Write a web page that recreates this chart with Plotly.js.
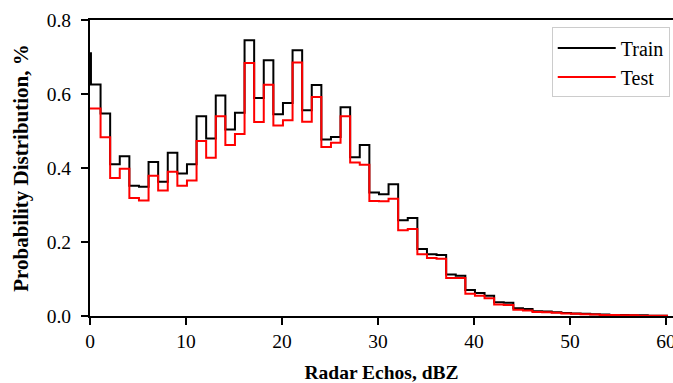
<!DOCTYPE html>
<html>
<head>
<meta charset="utf-8">
<script src="https://cdn.plot.ly/plotly-3.0.1.min.js"></script>
<style>html,body{margin:0;padding:0;background:#fff}#chart{width:673px;height:383px}</style>
</head>
<body>
<div id="chart"></div>
<script>
// Bin edges (dBZ)
const binEdges = [-0.9,0.1,1.1,2.1,3.1,4.1,5.1,6.1,7.1,8.1,9.1,10.1,11.1,12.1,13.1,14.1,15.1,16.1,17.1,18.1,19.1,
  20.1,21.1,22.1,23.1,24.1,25.1,26.1,27.1,28.1,29.1,30.1,31.1,32.1,33.1,34.1,35.1,36.1,37.1,38.1,39.1,
  40.1,41.1,42.1,43.1,44.1,45.1,46.1,47.1,48.1,49.1,50.1,51.1,52.1,53.1,54.1,55.1,56.1,57.1,58.1,59.1,60.1];

// Probability per bin (%)
const trainValues = [0.710,0.626,0.547,0.410,0.432,0.352,0.349,0.416,0.363,0.441,0.385,
  0.410,0.540,0.480,0.596,0.504,0.549,0.745,0.589,0.691,0.545,
  0.576,0.718,0.556,0.624,0.477,0.484,0.564,0.429,0.462,0.334,
  0.329,0.356,0.259,0.265,0.181,0.167,0.165,0.112,0.109,0.070,
  0.062,0.055,0.037,0.036,0.021,0.019,0.013,0.012,0.010,0.008,
  0.007,0.006,0.005,0.004,0.003,0.003,0.002,0.002,0.001,0.001];

const testValues = [0.561,0.561,0.483,0.373,0.398,0.319,0.312,0.379,0.339,0.390,0.352,
  0.366,0.473,0.428,0.540,0.462,0.492,0.684,0.524,0.625,0.515,
  0.529,0.685,0.525,0.592,0.457,0.468,0.540,0.415,0.409,0.311,
  0.310,0.317,0.232,0.235,0.167,0.157,0.155,0.103,0.103,0.060,
  0.055,0.048,0.031,0.030,0.017,0.015,0.011,0.010,0.009,0.007,
  0.006,0.005,0.004,0.003,0.003,0.002,0.002,0.001,0.001,0.001];

const xTicks = [0,10,20,30,40,50,60];
const yTicks = [0.0,0.2,0.4,0.6,0.8];
const yTickText = ['0.0','0.2','0.4','0.6','0.8'];

function stepTrace(vals, name, color, grp) {
  const xs = [binEdges[0]], ys = [0];
  for (let i = 0; i < vals.length; i++) { xs.push(binEdges[i]); ys.push(vals[i]); }
  const last = binEdges[vals.length];
  xs.push(last); ys.push(vals[vals.length-1]);
  xs.push(last); ys.push(0);
  return {x: xs, y: ys, type: 'scatter', mode: 'lines', name: name, legendgroup: grp,
    line: {shape: 'hv', color: color, width: 2}, hoverinfo: 'skip'};
}

const font = 'Liberation Serif, Times New Roman, serif';
const data = [stepTrace(trainValues, 'Train', '#000000', 'a'), stepTrace(testValues, 'Test', '#ff0000', 'b')];
const layout = {
  width: 673, height: 383,
  margin: {l: 90, r: 0, t: 20, b: 67},
  paper_bgcolor: '#fff', plot_bgcolor: '#fff',
  font: {family: font, size: 19.5, color: '#000'},
  showlegend: true,
  legend: {x: 0.792, y: 0.975, xanchor: 'left', yanchor: 'top',
    bgcolor: '#fff', bordercolor: '#cccccc', borderwidth: 1,
    font: {family: font, size: 20, color: '#000'}, tracegroupgap: 0, itemwidth: 58},
  xaxis: {range: [0, 60.73], tickvals: xTicks, ticktext: xTicks.map(String),
    showgrid: false, zeroline: false, showline: true, linecolor: '#000', linewidth: 2, mirror: true,
    ticks: 'outside', ticklen: 7, tickwidth: 1.5, tickcolor: '#000', ticklabeloverflow: 'allow',
    tickfont: {family: font, size: 19.5},
    title: {text: '<b>Radar Echos, dBZ</b>', font: {family: font, size: 19.5}, standoff: 15}},
  yaxis: {range: [0, 0.8], tickvals: yTicks, ticktext: yTickText,
    showgrid: false, zeroline: false, showline: true, linecolor: '#000', linewidth: 2,
    ticks: 'outside', ticklen: 7, tickwidth: 1.5, tickcolor: '#000', ticklabelstandoff: 6,
    tickfont: {family: font, size: 19.5},
    title: {text: '<b>Probability Distribution, %</b>', font: {family: font, size: 21}, standoff: 12}}
};
Plotly.newPlot('chart', data, layout, {staticPlot: true, displayModeBar: false});
</script>
</body>
</html>
